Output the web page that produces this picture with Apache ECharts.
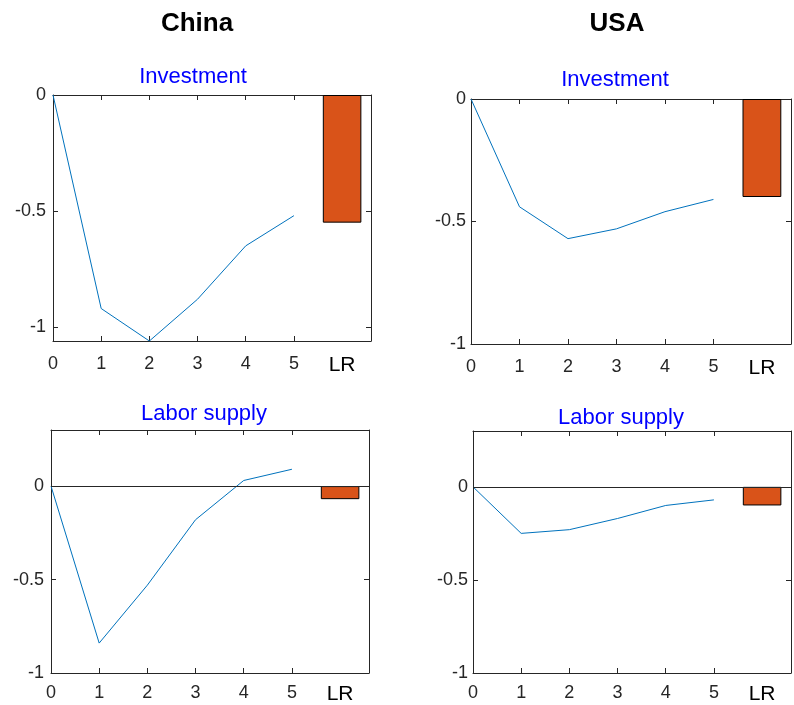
<!DOCTYPE html>
<html>
<head>
<meta charset="utf-8">
<script src="https://cdn.jsdelivr.net/npm/echarts@6/dist/echarts.min.js"></script>
<style>
html,body{margin:0;padding:0;background:#fff;}
#c{width:794px;height:705px;}
</style>
</head>
<body>
<div id="c"></div>
<script>
// ---- data ----
var periods = [0, 1, 2, 3, 4, 5];
var lrPosition = 6;
var xTickLabels = ['0', '1', '2', '3', '4', '5', 'LR'];
var countryTitles = ['China', 'USA'];
var panelTitles = ['Investment', 'Labor supply'];

var chinaInvestment = [0, -0.92, -1.06, -0.88, -0.65, -0.52];
var chinaInvestmentLR = -0.55;
var usaInvestment = [0, -0.44, -0.57, -0.53, -0.46, -0.41];
var usaInvestmentLR = -0.40;
var chinaLabor = [0, -0.84, -0.53, -0.18, 0.03, 0.09];
var chinaLaborLR = -0.07;
var usaLabor = [0, -0.25, -0.23, -0.17, -0.10, -0.07];
var usaLaborLR = -0.10;

var yTicks = [-1, -0.5, 0];
var yLabels = ['-1', '-0.5', '0'];

// ---- layout ----
var FONT = 'Liberation Sans, Arial, sans-serif';
var panels = [
  {line: chinaInvestment, lr: chinaInvestmentLR, ymin: -1.06, ymax: 0, grid: {left: 53, top: 95, width: 318, height: 246}, zero: false, lblMargin: 14, yMargin: 7},
  {line: usaInvestment, lr: usaInvestmentLR, ymin: -1, ymax: 0, grid: {left: 471, top: 99, width: 320, height: 245}, zero: false, lblMargin: 14, yMargin: 5},
  {line: chinaLabor, lr: chinaLaborLR, ymin: -1, ymax: 0.3, grid: {left: 51, top: 430, width: 318, height: 244}, zero: true, lblMargin: 11, yMargin: 7},
  {line: usaLabor, lr: usaLaborLR, ymin: -1, ymax: 0.3, grid: {left: 473, top: 431, width: 318, height: 243}, zero: true, lblMargin: 11, yMargin: 5}
];

var grids = [], xAxes = [], yAxes = [], series = [];
var axisColor = '#262626';
panels.forEach(function (p, i) {
  grids.push({left: p.grid.left, top: p.grid.top, width: p.grid.width, height: p.grid.height, containLabel: false});
  var unit = p.grid.width / 6.6;
  xAxes.push({
    type: 'value', gridIndex: i, min: 0, max: 6.6, position: 'bottom',
    axisLine: {show: true, onZero: false, lineStyle: {color: axisColor, width: 1}},
    axisTick: {show: true, inside: true, length: 5, customValues: periods, lineStyle: {color: axisColor}},
    axisLabel: {
      show: true, customValues: periods.concat([lrPosition]), margin: p.lblMargin,
      fontFamily: FONT, fontSize: 18, color: axisColor,
      formatter: function (v) { var k = Math.round(v); return k === lrPosition ? '{lr|' + xTickLabels[k] + '}' : xTickLabels[k]; },
      rich: {lr: {fontFamily: FONT, fontSize: 21, color: '#000'}}
    },
    splitLine: {show: false}
  });
  xAxes.push({
    type: 'value', gridIndex: i, min: 0, max: 6.6, position: 'top',
    axisLine: {show: true, onZero: false, lineStyle: {color: axisColor, width: 1}},
    axisTick: {show: true, inside: true, length: 5, customValues: periods, lineStyle: {color: axisColor}},
    axisLabel: {show: false},
    splitLine: {show: false}
  });
  yAxes.push({
    type: 'value', gridIndex: i, min: p.ymin, max: p.ymax, position: 'left',
    axisLine: {show: true, onZero: false, lineStyle: {color: axisColor, width: 1}},
    axisTick: {show: true, inside: true, length: 5, customValues: yTicks, lineStyle: {color: axisColor}},
    axisLabel: {
      show: true, customValues: yTicks, margin: p.yMargin,
      fontFamily: FONT, fontSize: 18, color: axisColor,
      formatter: function (v) { var k = yTicks.indexOf(Math.round(v * 10) / 10); return k >= 0 ? yLabels[k] : ''; }
    },
    splitLine: {show: false}
  });
  yAxes.push({
    type: 'value', gridIndex: i, min: p.ymin, max: p.ymax, position: 'right',
    axisLine: {show: true, onZero: false, lineStyle: {color: axisColor, width: 1}},
    axisTick: {show: true, inside: true, length: 5, customValues: yTicks, lineStyle: {color: axisColor}},
    axisLabel: {show: false},
    splitLine: {show: false}
  });
  var lineSeries = {
    type: 'line', xAxisIndex: 2 * i, yAxisIndex: 2 * i,
    data: periods.map(function (t, k) { return [t, p.line[k]]; }),
    showSymbol: false, symbol: 'none', silent: true, animation: false,
    lineStyle: {color: '#0072BD', width: 1}
  };
  if (p.zero) {
    lineSeries.markLine = {
      silent: true, symbol: 'none', animation: false,
      label: {show: false},
      lineStyle: {color: axisColor, width: 1, type: 'solid'},
      data: [{yAxis: 0}]
    };
  }
  series.push(lineSeries);
  series.push({
    type: 'bar', xAxisIndex: 2 * i, yAxisIndex: 2 * i,
    data: [[lrPosition, p.lr]], barWidth: unit * 0.8, silent: true, animation: false,
    itemStyle: {color: '#D95319', borderColor: '#000', borderWidth: 1}
  });
});

var titleStyle = function (x, y, text, size, bold, color) {
  return {type: 'text', x: x, y: y, silent: true,
    style: {text: text, fontFamily: FONT, fontSize: size, fontWeight: bold ? 'bold' : 'normal', fill: color, align: 'center', verticalAlign: 'middle'}};
};

var graphics = [
  titleStyle(197, 24, countryTitles[0], 26, true, '#000'),
  titleStyle(617, 24, countryTitles[1], 26, true, '#000'),
  titleStyle(193, 77, panelTitles[0], 22, false, '#0000FF'),
  titleStyle(615, 80, panelTitles[0], 22, false, '#0000FF'),
  titleStyle(204, 414, panelTitles[1], 22, false, '#0000FF'),
  titleStyle(621, 418, panelTitles[1], 22, false, '#0000FF')
];

var chart = echarts.init(document.getElementById('c'), null, {renderer: 'canvas'});
chart.setOption({
  animation: false,
  backgroundColor: '#fff',
  grid: grids,
  xAxis: xAxes,
  yAxis: yAxes,
  series: series,
  graphic: graphics
});
</script>
</body>
</html>
